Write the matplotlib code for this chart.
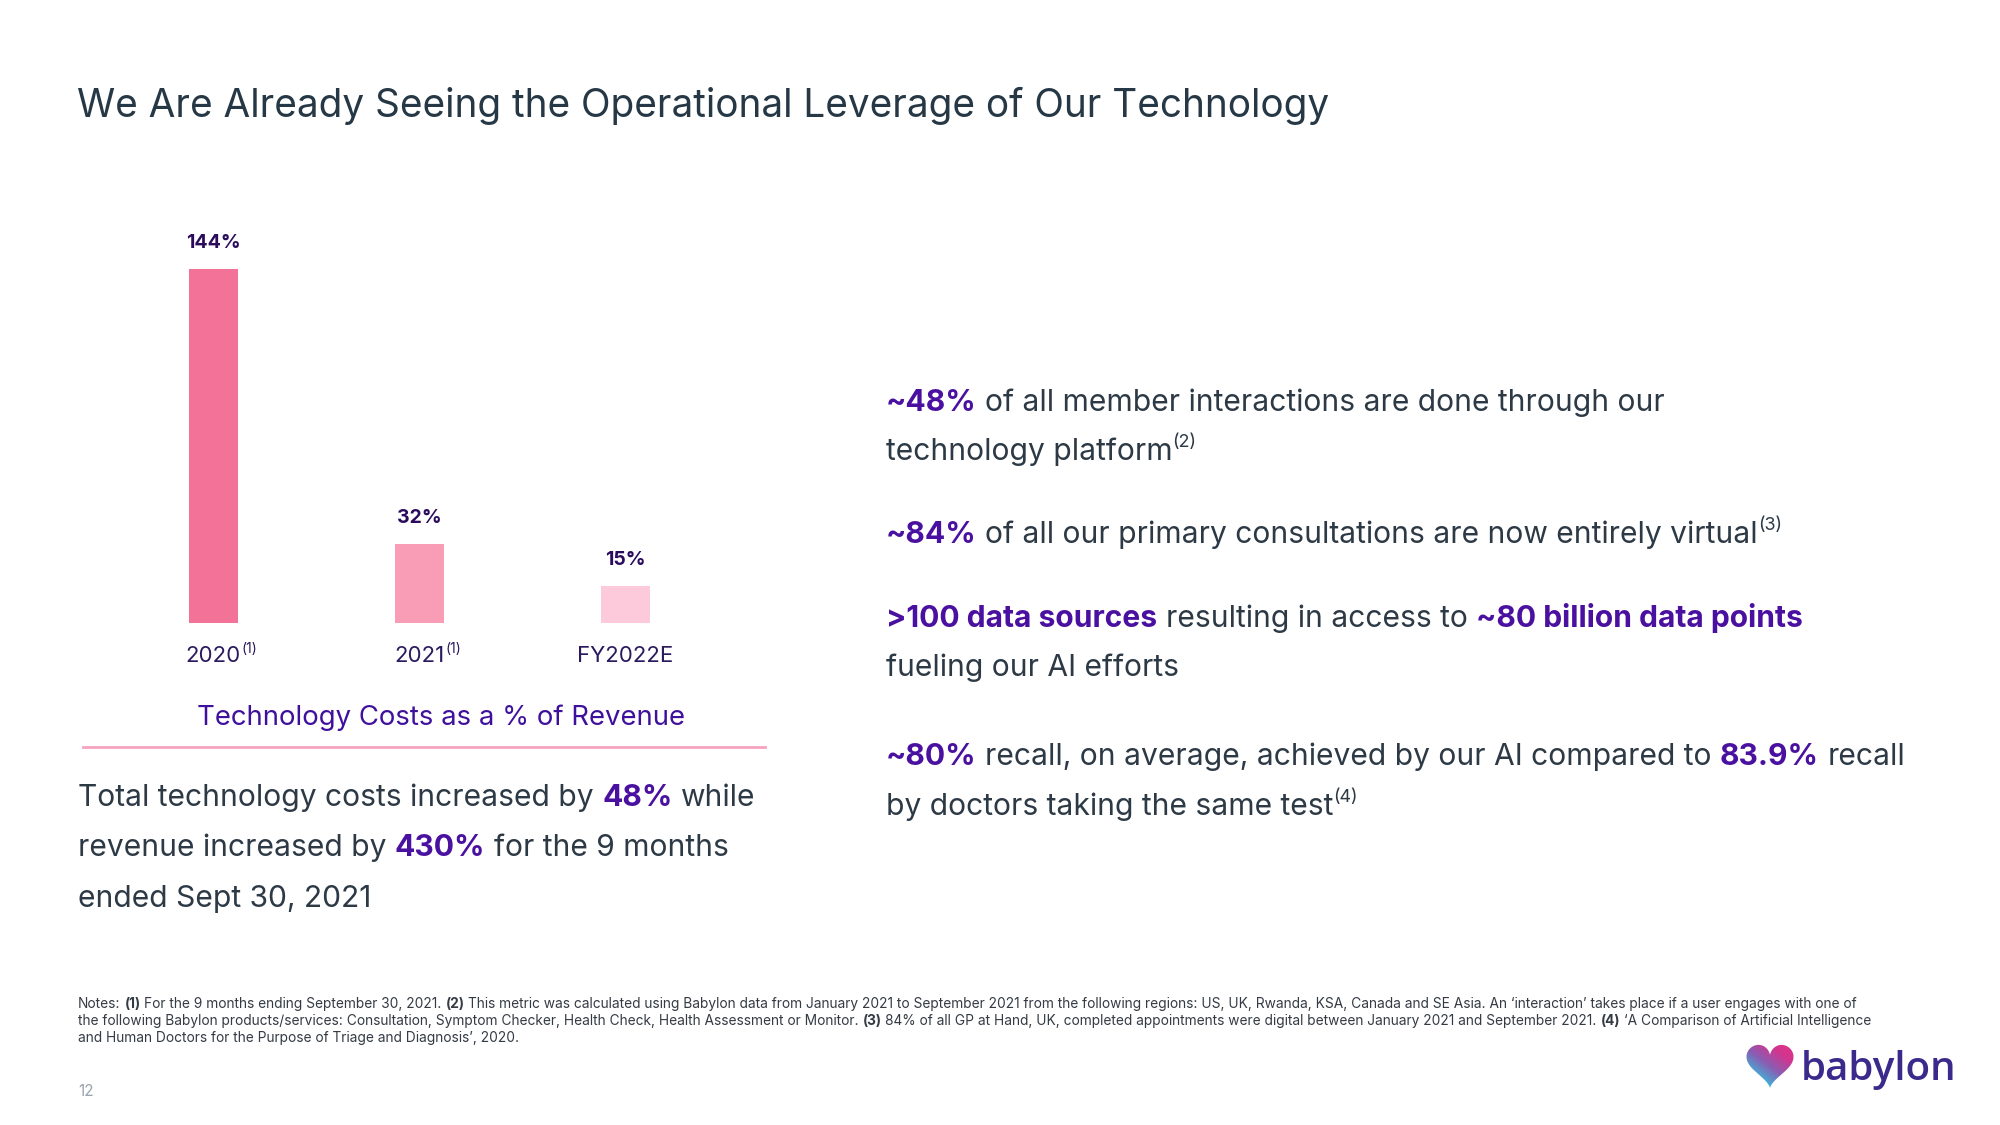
import matplotlib
matplotlib.use('Agg')
import matplotlib.pyplot as plt
import numpy as np
from matplotlib.font_manager import FontProperties
from matplotlib.path import Path
from matplotlib.patches import PathPatch
from matplotlib.colors import LinearSegmentedColormap

# ---------------- data ----------------
categories = ['2020', '2021', 'FY2022E']
category_notes = ['(1)', '(1)', '']
tech_cost_pct = [144, 32, 15]
bar_colors = ['#f27397', '#f99db6', '#fdcadb']

title = 'We Are Already Seeing the Operational Leverage of Our Technology'
chart_caption = 'Technology Costs as a % of Revenue'

left_lines = [
    [('Total technology costs increased by ', 'n'), ('48%', 'b'), (' while', 'n')],
    [('revenue increased by ', 'n'), ('430%', 'b'), (' for the 9 months', 'n')],
    [('ended Sept 30, 2021', 'n')],
]

right_lines = [
    [('~48%', 'b'), (' of all member interactions are done through our', 'n')],
    [('technology platform', 'n'), ('(2)', 's')],
    [('~84%', 'b'), (' of all our primary consultations are now entirely virtual', 'n'), ('(3)', 's')],
    [('>100 data sources', 'b'), (' resulting in access to ', 'n'), ('~80 billion data points', 'b')],
    [('fueling our AI efforts', 'n')],
    [('~80%', 'b'), (' recall, on average, achieved by our AI compared to ', 'n'), ('83.9%', 'b'), (' recall', 'n')],
    [('by doctors taking the same test', 'n'), ('(4)', 's')],
]

notes_lines = [
    [('Notes: ', 'n'), ('(1)', 'b'), (' For the 9 months ending September 30, 2021. ', 'n'), ('(2)', 'b'),
     (' This metric was calculated using Babylon data from January 2021 to September 2021 from the following regions: '
      'US, UK, Rwanda, KSA, Canada and SE Asia. An \u2018interaction\u2019 takes place if a user engages with one of', 'n')],
    [('the following Babylon products/services: Consultation, Symptom Checker, Health Check, Health Assessment or Monitor. ', 'n'),
     ('(3)', 'b'), (' 84% of all GP at Hand, UK, completed appointments were digital between January 2021 and September 2021. ', 'n'),
     ('(4)', 'b'), (' \u2018A Comparison of Artificial Intelligence', 'n')],
    [('and Human Doctors for the Purpose of Triage and Diagnosis\u2019, 2020.', 'n')],
]
page_number = '12'
brand = 'babylon'

# ---------------- style ----------------
FONT = 'Inter'
plt.rcParams['font.family'] = [FONT, 'DejaVu Sans']
W, H = 2000, 1125
C_TITLE = '#263845'
C_BODY = '#2d3a46'
C_PURPLE = '#4a10a0'
C_VAL = '#2a0b5c'
C_CAT = '#2b1a5e'
C_CAPTION = '#3f109c'
C_NOTES = '#343b44'

fig = plt.figure(figsize=(20, 11.25), dpi=100)
fig.patch.set_facecolor('white')
renderer = fig.canvas.get_renderer()


def fx(x):
    return x / W


def fy(y):
    return 1 - y / H


def space_w(size, weight):
    fp = FontProperties(family=FONT, size=size, weight=weight)
    w1, _, _ = renderer.get_text_width_height_descent('x x', fp, ismath=False)
    w2, _, _ = renderer.get_text_width_height_descent('xx', fp, ismath=False)
    return w1 - w2


def rich_line(segs, x, y, size, normal_color, bold_color, bold_weight='bold'):
    for txt, st in segs:
        if st == 's':
            s = size * 0.6
            yy = y - size * 0.42 * 100 / 72
            wt, col = 'normal', normal_color
        elif st == 'b':
            s, yy, wt, col = size, y, bold_weight, bold_color
        else:
            s, yy, wt, col = size, y, 'normal', normal_color
        lead = len(txt) - len(txt.lstrip(' '))
        trail = len(txt) - len(txt.rstrip(' '))
        core = txt.strip(' ')
        sw = space_w(s, wt)
        x += lead * sw
        if core:
            t = fig.text(fx(x), fy(yy), core, fontsize=s, fontweight=wt, color=col,
                         ha='left', va='baseline', family=[FONT, 'DejaVu Sans'])
            bb = t.get_window_extent(renderer)
            x = bb.x1
        x += trail * sw
    return x


# ---------------- title ----------------
fig.text(fx(77), fy(117), title, fontsize=27.9, color=C_TITLE, ha='left', va='baseline')

# ---------------- bar chart ----------------
px_per_pct = 2.46
base_y = 623
spacing = 206
ax_left = 213 - spacing / 2
ylim_top = 160
ax = fig.add_axes([fx(ax_left), 1 - base_y / H, spacing * 3 / W, ylim_top * px_per_pct / H])
ax.set_xlim(-0.5, 2.5)
ax.set_ylim(0, ylim_top)
ax.axis('off')
xpos = np.arange(len(categories))
ax.bar(xpos, tech_cost_pct, width=49 / spacing, color=bar_colors, zorder=2)
for i, v in enumerate(tech_cost_pct):
    ax.annotate(f'{v}%', (xpos[i], v), xytext=(0, 21 * 0.72), textcoords='offset points',
                ha='center', va='baseline', fontsize=14, fontweight='bold', color=C_VAL)
    t = ax.annotate(categories[i], (xpos[i], 0), xytext=(0, -39 * 0.72), textcoords='offset points',
                    ha='center', va='baseline', fontsize=16, color=C_CAT)
    if category_notes[i]:
        bb = t.get_window_extent(renderer)
        fig.text(fx(bb.x1 + 1), fy(base_y + 39 - 9), category_notes[i], fontsize=10,
                 color=C_CAT, ha='left', va='baseline')

fig.text(fx(441), fy(725), chart_caption, fontsize=19.8, color=C_CAPTION, ha='center', va='baseline')
fig.add_artist(plt.Line2D([fx(83), fx(765)], [fy(747), fy(747)], color='#f5a3c0', lw=2))

# ---------------- left paragraph ----------------
for i, segs in enumerate(left_lines):
    rich_line(segs, 78, 806 + i * 50.5, 21.6, C_BODY, C_PURPLE)

# ---------------- right paragraphs ----------------
right_baselines = [411, 460, 543, 627, 676, 765, 815]
for segs, yb in zip(right_lines, right_baselines):
    rich_line(segs, 886, yb, 21.6, C_BODY, C_PURPLE)

# ---------------- notes ----------------
for i, segs in enumerate(notes_lines):
    rich_line(segs, 78, 1008 + i * 17, 9.9, C_NOTES, C_NOTES)

fig.text(fx(78), fy(1096), page_number, fontsize=11, color='#9aa3ab', ha='left', va='baseline')

# ---------------- logo ----------------
hax = fig.add_axes([fx(1745), fy(1089), 50 / W, 45 / H])
hax.axis('off')
tt = np.linspace(0, 2 * np.pi, 300)
hx = 16 * np.sin(tt) ** 3
hy = 13 * np.cos(tt) - 5 * np.cos(2 * tt) - 2 * np.cos(3 * tt) - np.cos(4 * tt)
hax.set_xlim(-17, 17)
hax.set_ylim(-17.5, 12.5)
path = Path(np.column_stack([hx, hy]))
patch = PathPatch(path, facecolor='none', edgecolor='none')
hax.add_patch(patch)
gx, gy = np.meshgrid(np.linspace(-17, 17, 200), np.linspace(-17.5, 12.5, 200))
u = (0.55 * (gy + 17.5) / 30 + 0.45 * (gx + 17) / 34)
cmap = LinearSegmentedColormap.from_list('heart', ['#18c3dc', '#3fb2d6', '#8a5db3', '#d2358f', '#e2338a'])
im = hax.imshow(u, extent=(-17, 17, -17.5, 12.5), origin='lower', cmap=cmap, aspect='auto')
im.set_clip_path(patch)

fig.text(fx(1801), fy(1080), brand, fontsize=29, fontweight='semibold', color='#3b2a8c',
         ha='left', va='baseline', family=['Open Sans', 'DejaVu Sans'])

fig.savefig('out.png', dpi=100, facecolor='white')
